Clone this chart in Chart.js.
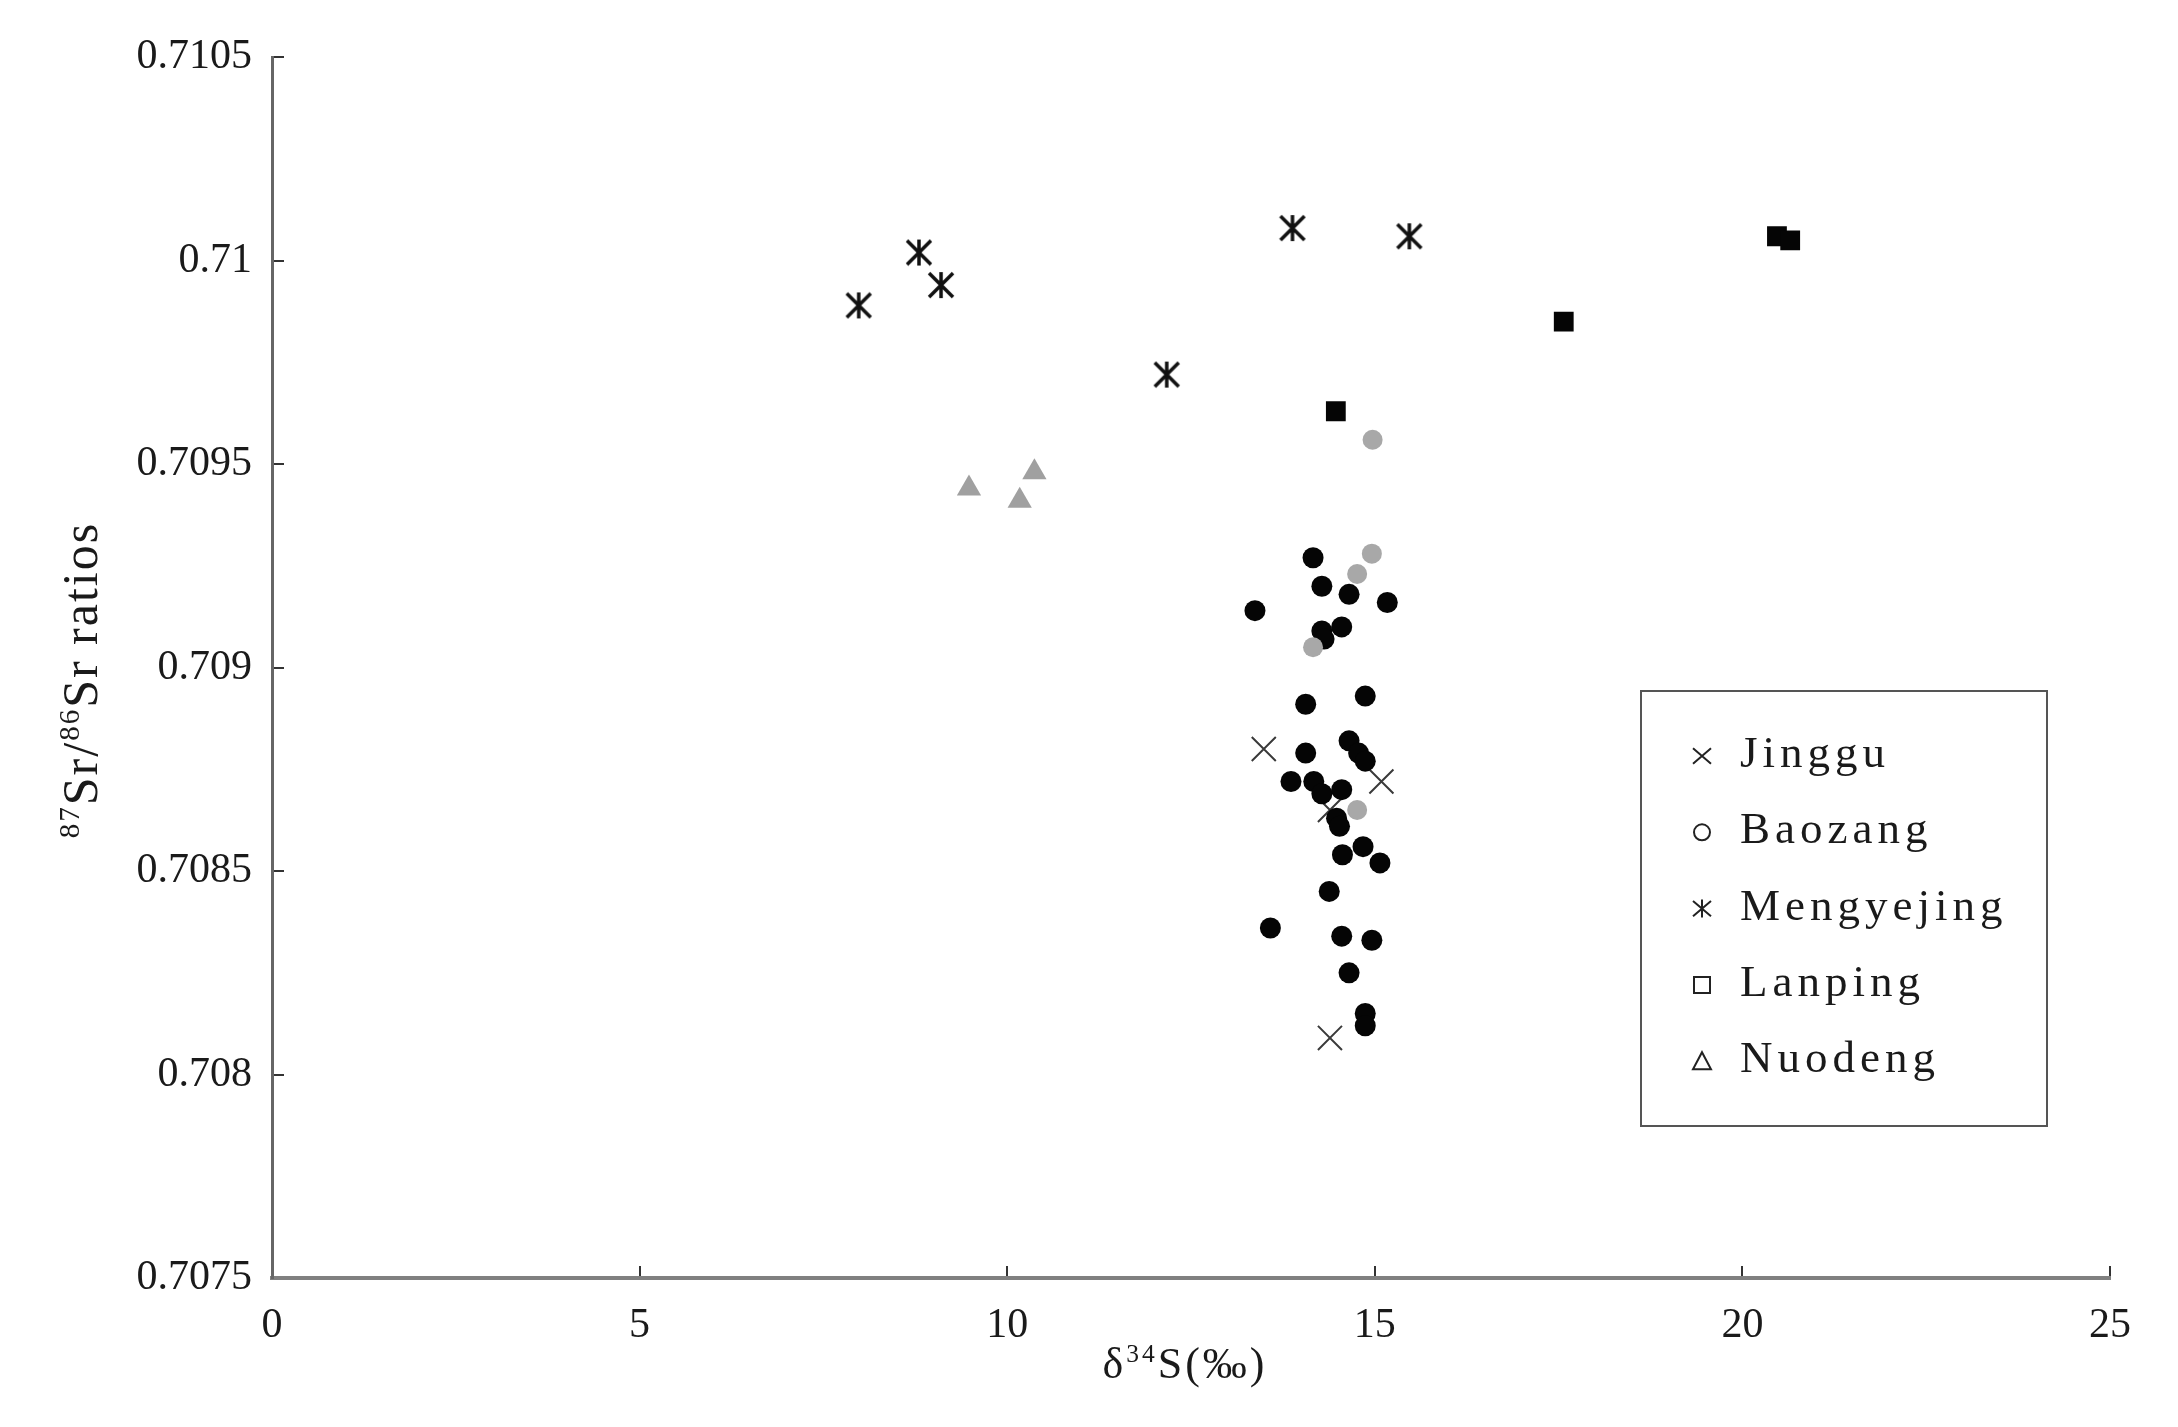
<!DOCTYPE html>
<html>
<head>
<meta charset="utf-8">
<title>Sr-S isotope plot</title>
<script src="https://cdn.jsdelivr.net/npm/chart.js@4.4.0/dist/chart.umd.min.js"></script>
<style>
    html, body { margin: 0; padding: 0; background: #fff; }
    #wrap { width: 2178px; height: 1427px; }
</style>
</head>
<body>
<div id="wrap"><canvas id="chart" width="2178" height="1427"></canvas></div>
<script>
// ================================
// Data
// ================================

const xTicks = [0, 5, 10, 15, 20, 25];
const yTicks = [0.7075, 0.708, 0.7085, 0.709, 0.7095, 0.71, 0.7105];

const legendNames = ["Jinggu", "Baozang", "Mengyejing", "Lanping", "Nuodeng"];

const jingguX = [13.49, 15.09, 14.39, 14.39];
const jingguY = [0.70880, 0.70872, 0.70865, 0.70809];

const baozangX = [14.97, 14.96, 14.76, 14.16, 14.76];
const baozangY = [0.70956, 0.70928, 0.70923, 0.70905, 0.70865];

// black dots in the cluster (no legend entry)
const blackX = [14.16, 14.28, 14.65, 15.17, 13.37, 14.55, 14.28, 14.31, 14.06, 14.87,
                14.65, 14.78, 14.87, 14.06, 13.86, 14.17, 14.28, 14.55, 14.48, 14.52,
                14.56, 14.84, 15.07, 14.38, 13.58, 14.55, 14.96, 14.65, 14.87, 14.87];
const blackY = [0.70927, 0.70920, 0.70918, 0.70916, 0.70914, 0.70910, 0.70909, 0.70907, 0.70891, 0.70893,
                0.70882, 0.70879, 0.70877, 0.70879, 0.70872, 0.70872, 0.70869, 0.70870, 0.70863, 0.70861,
                0.70854, 0.70856, 0.70852, 0.70845, 0.70836, 0.70834, 0.70833, 0.70825, 0.70815, 0.70812];

const mengyejingX = [7.98, 8.80, 9.10, 12.17, 13.88, 15.47];
const mengyejingY = [0.70989, 0.71002, 0.70994, 0.70972, 0.71008, 0.71006];

const lanpingX = [14.47, 17.57, 20.47, 20.65];
const lanpingY = [0.70963, 0.70985, 0.71006, 0.71005];

const nuodengX = [9.48, 10.17, 10.37];
const nuodengY = [0.70944, 0.70941, 0.70948];

const xTitleParts = [{ t: "δ" }, { t: "34", sup: true }, { t: "S(‰)" }];
const yTitleParts = [{ t: "87", sup: true }, { t: "Sr/" }, { t: "86", sup: true }, { t: "Sr ratios" }];

// ================================
// Helpers
// ================================

const SERIF = "'Liberation Serif', 'Times New Roman', serif";

function toPoints(xs, ys) {
    return xs.map((x, i) => ({ x: x, y: ys[i] }));
}

// X with a vertical bar, used for Mengyejing
function asteriskImage(size, lw) {
    const c = document.createElement("canvas");
    c.width = size;
    c.height = size;
    const g = c.getContext("2d");
    g.strokeStyle = "#111";
    g.lineWidth = lw;
    g.lineCap = "butt";
    const m = 2;
    g.beginPath();
    g.moveTo(m, m);                g.lineTo(size - m, size - m);
    g.moveTo(size - m, m);         g.lineTo(m, size - m);
    g.moveTo(size / 2, 1);         g.lineTo(size / 2, size - 1);
    g.stroke();
    return c;
}

function drawRich(ctx, parts, cx, baseY, size, spacing) {
    ctx.letterSpacing = spacing + "px";
    let w = 0;
    parts.forEach(p => {
        ctx.font = (p.sup ? size * 0.58 : size) + "px " + SERIF;
        p.w = ctx.measureText(p.t).width;
        w += p.w;
    });
    let x = cx - w / 2;
    ctx.textAlign = "left";
    ctx.textBaseline = "alphabetic";
    parts.forEach(p => {
        ctx.font = (p.sup ? size * 0.58 : size) + "px " + SERIF;
        ctx.fillText(p.t, x, p.sup ? baseY - size * 0.36 : baseY);
        x += p.w;
    });
    ctx.letterSpacing = "0px";
}

function legendMarker(ctx, i, x, y) {
    const r = 9;
    ctx.beginPath();
    if (i === 0) {
        ctx.moveTo(x - r, y - r * 0.85); ctx.lineTo(x + r, y + r * 0.85);
        ctx.moveTo(x + r, y - r * 0.85); ctx.lineTo(x - r, y + r * 0.85);
    } else if (i === 1) {
        ctx.arc(x, y, r - 1, 0, Math.PI * 2);
    } else if (i === 2) {
        ctx.moveTo(x - r, y - r * 0.85); ctx.lineTo(x + r, y + r * 0.85);
        ctx.moveTo(x + r, y - r * 0.85); ctx.lineTo(x - r, y + r * 0.85);
        ctx.moveTo(x, y - r); ctx.lineTo(x, y + r);
    } else if (i === 3) {
        ctx.rect(x - r + 1, y - r + 1, 2 * r - 2, 2 * r - 2);
    } else {
        ctx.moveTo(x, y - r);
        ctx.lineTo(x + r, y + r - 1);
        ctx.lineTo(x - r, y + r - 1);
        ctx.closePath();
    }
    ctx.stroke();
}

// ================================
// Plugins: axis titles and boxed legend
// ================================

const axisTitles = {
    id: "axisTitles",
    afterDraw(chart) {
        const ctx = chart.ctx;
        const a = chart.chartArea;
        ctx.save();
        ctx.fillStyle = "#1a1a1a";
        drawRich(ctx, xTitleParts, (a.left + a.right) / 2 - 6, 1378, 44, 3);
        ctx.translate(97, 680);
        ctx.rotate(-Math.PI / 2);
        drawRich(ctx, yTitleParts, 0, 0, 50, 2);
        ctx.restore();
    }
};

const boxLegend = {
    id: "boxLegend",
    afterDraw(chart) {
        const ctx = chart.ctx;
        ctx.save();
        ctx.fillStyle = "#fff";
        ctx.fillRect(1641, 691, 406, 435);
        ctx.strokeStyle = "#555";
        ctx.lineWidth = 2;
        ctx.strokeRect(1641, 691, 406, 435);

        ctx.font = "45px " + SERIF;
        ctx.letterSpacing = "5px";
        ctx.textAlign = "left";
        ctx.textBaseline = "alphabetic";
        legendNames.forEach((name, i) => {
            const base = 767 + i * 76.3;
            ctx.strokeStyle = "#222";
            ctx.lineWidth = 2;
            legendMarker(ctx, i, 1702, base - 11);
            ctx.fillStyle = "#1a1a1a";
            ctx.fillText(name, 1740, base);
        });
        ctx.letterSpacing = "0px";
        ctx.restore();
    }
};

// ================================
// Chart
// ================================

new Chart(document.getElementById("chart"), {

    type: "scatter",

    data: {
        datasets: [
            {
                label: "Baozang",
                data: toPoints(baozangX, baozangY),
                pointStyle: "circle",
                pointRadius: 10,
                pointBackgroundColor: "#a8a8a8",
                pointBorderWidth: 0,
                order: 1
            },
            {
                label: "Baozang (black)",
                data: toPoints(blackX, blackY),
                pointStyle: "circle",
                pointRadius: 10.5,
                pointBackgroundColor: "#050505",
                pointBorderWidth: 0,
                order: 2
            },
            {
                label: "Jinggu",
                data: toPoints(jingguX, jingguY),
                pointStyle: "crossRot",
                pointRadius: 17,
                pointBorderColor: "#3a3a3a",
                pointBorderWidth: 2,
                order: 3
            },
            {
                label: "Mengyejing",
                data: toPoints(mengyejingX, mengyejingY),
                pointStyle: asteriskImage(28, 3.5),
                pointRadius: 14,
                order: 1
            },
            {
                label: "Lanping",
                data: toPoints(lanpingX, lanpingY),
                pointStyle: "rect",
                pointRadius: 14,
                pointBackgroundColor: "#050505",
                pointBorderWidth: 0,
                order: 1
            },
            {
                label: "Nuodeng",
                data: toPoints(nuodengX, nuodengY),
                pointStyle: "triangle",
                pointRadius: 14,
                pointBackgroundColor: "#a0a0a0",
                pointBorderWidth: 0,
                order: 1
            }
        ]
    },

    options: {
        responsive: false,
        animation: false,
        events: [],
        layout: {
            padding: { left: 0, right: 68, top: 56, bottom: 0 }
        },
        plugins: {
            legend: { display: false },
            tooltip: { enabled: false }
        },
        scales: {
            x: {
                type: "linear",
                min: 0,
                max: 25,
                afterBuildTicks: s => { s.ticks = xTicks.map(v => ({ value: v })); },
                afterFit: s => { s.height = 149; },
                border: { color: "#808080", width: 4 },
                grid: {
                    drawOnChartArea: false,
                    drawTicks: true,
                    tickLength: -12,
                    color: "#333",
                    lineWidth: 2
                },
                ticks: {
                    color: "#1a1a1a",
                    padding: 35,
                    maxRotation: 0,
                    font: { family: SERIF, size: 42 }
                }
            },
            y: {
                type: "linear",
                min: 0.7075,
                max: 0.7105,
                afterBuildTicks: s => { s.ticks = yTicks.map(v => ({ value: v })); },
                afterFit: s => { s.width = 272; },
                border: { color: "#666", width: 3 },
                grid: {
                    drawOnChartArea: false,
                    drawTicks: true,
                    tickLength: -12,
                    color: "#333",
                    lineWidth: 2
                },
                ticks: {
                    color: "#1a1a1a",
                    padding: 32,
                    font: { family: SERIF, size: 42 },
                    callback: v => String(+v.toFixed(4))
                }
            }
        }
    },

    plugins: [axisTitles, boxLegend]

});
</script>
</body>
</html>
